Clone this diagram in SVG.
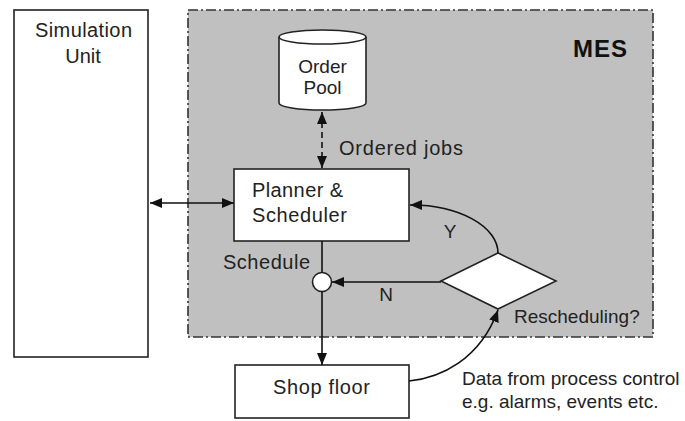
<svg xmlns="http://www.w3.org/2000/svg" width="685" height="421" viewBox="0 0 685 421">
  <defs>
    <marker id="arrow" viewBox="0 0 12 10" refX="12" refY="5" markerWidth="12" markerHeight="10" markerUnits="userSpaceOnUse" orient="auto-start-reverse">
      <path d="M0,0 L12,5 L0,10 Z" fill="#111"/>
    </marker>
    <style>
      .box { fill: #ffffff; stroke: #222; stroke-width: 1.6; }
      .line { fill: none; stroke: #111; stroke-width: 1.6; }
      .txt { font-family: "Liberation Sans", Arial, sans-serif; font-size: 19px; fill: #222; }
      .big { font-size: 20px; }
      .mid { text-anchor: middle; }
    </style>
  </defs>

  <rect width="685" height="421" fill="#ffffff"/>

  <!-- MES boundary -->
  <g id="mes">
    <rect x="188" y="10" width="465" height="327" fill="#c0c0c0" stroke="#333" stroke-width="1.6" stroke-dasharray="10 3 2 3"/>
    <text x="573" y="57" font-family="Liberation Sans, Arial, sans-serif" font-size="24" font-weight="bold" letter-spacing="1" fill="#111">MES</text>
  </g>

  <!-- Simulation unit -->
  <g id="simulation-unit">
    <rect class="box" x="14" y="10" width="134" height="347"/>
    <text class="txt big" x="35" y="37" textLength="97" lengthAdjust="spacing">Simulation</text>
    <text class="txt big mid" x="83" y="63">Unit</text>
  </g>

  <!-- Order pool (database cylinder) -->
  <g id="order-pool">
    <path class="box" d="M279,37 L279,103 A43.5,7 0 0 0 366,103 L366,37"/>
    <ellipse class="box" cx="322.5" cy="37" rx="43.5" ry="7"/>
    <text class="txt mid" x="322.5" y="73">Order</text>
    <text class="txt mid" x="322.5" y="94">Pool</text>
  </g>

  <!-- Planner & Scheduler -->
  <g id="planner">
    <rect class="box" x="234" y="169" width="175" height="72"/>
    <text class="txt big" x="252" y="197" textLength="91" lengthAdjust="spacing">Planner &amp;</text>
    <text class="txt big" x="252" y="222" textLength="95" lengthAdjust="spacing">Scheduler</text>
  </g>

  <!-- Merge point -->
  <g id="merge">
    <circle cx="322" cy="282" r="9.5" fill="#fff" stroke="#222" stroke-width="1.6"/>
  </g>

  <!-- Rescheduling decision -->
  <g id="decision">
    <polygon class="box" points="441,281 498,253 556,281 498,309"/>
    <text class="txt" x="514" y="323">Rescheduling?</text>
  </g>

  <!-- Shop floor -->
  <g id="shop-floor">
    <rect class="box" x="235" y="365" width="174" height="53"/>
    <text class="txt big" x="273" y="394" textLength="97" lengthAdjust="spacing">Shop floor</text>
  </g>

  <!-- Connectors -->
  <g id="connectors">
    <line class="line" x1="150" y1="203" x2="234" y2="203" marker-start="url(#arrow)" marker-end="url(#arrow)"/>
    <line class="line" x1="322" y1="112" x2="322" y2="168" stroke-dasharray="6 4" marker-start="url(#arrow)" marker-end="url(#arrow)"/>
    <line class="line" x1="322" y1="241" x2="322" y2="272.5"/>
    <line class="line" x1="322" y1="291.5" x2="322" y2="365" marker-end="url(#arrow)"/>
    <line class="line" x1="441" y1="282" x2="332" y2="282" marker-end="url(#arrow)"/>
    <path class="line" d="M498,253 A87,48 0 0 0 410,205" marker-end="url(#arrow)"/>
    <path class="line" d="M409,381 C440,378 480,360 498,310" marker-end="url(#arrow)"/>
  </g>

  <!-- Connector labels -->
  <g id="labels">
    <text class="txt big" x="339" y="155" textLength="124" lengthAdjust="spacing">Ordered jobs</text>
    <text class="txt big" x="223" y="269" textLength="87" lengthAdjust="spacing">Schedule</text>
    <text class="txt mid" x="450" y="238">Y</text>
    <text class="txt mid" x="386" y="301">N</text>
    <text class="txt" x="462" y="385">Data from process control</text>
    <text class="txt" x="462" y="408">e.g. alarms, events etc.</text>
  </g>
</svg>
